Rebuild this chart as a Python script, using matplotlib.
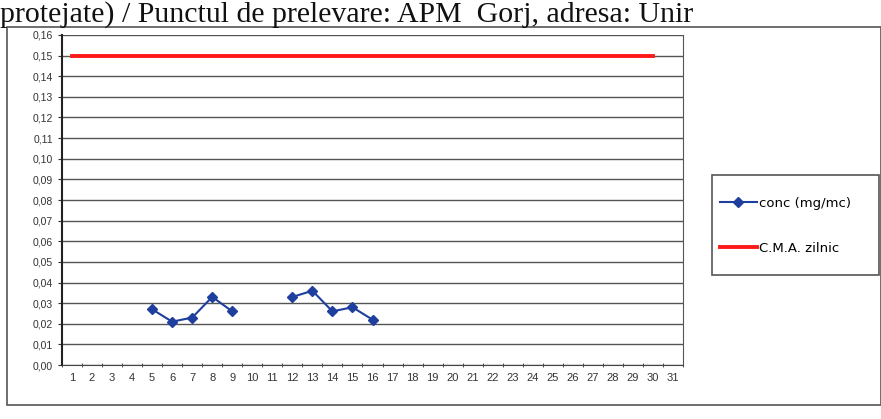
import matplotlib
matplotlib.use("Agg")
import matplotlib.pyplot as plt
from matplotlib.patches import Rectangle

plt.rcParams['font.family'] = ['Liberation Sans', 'DejaVu Sans']

days = list(range(1, 32))
conc_days = [5, 6, 7, 8, 9, 12, 13, 14, 15, 16]
conc = [0.027, 0.021, 0.023, 0.033, 0.026, 0.033, 0.036, 0.026, 0.028, 0.022]
cma_days = list(range(1, 31))
cma = [0.15] * len(cma_days)
yticks = [i / 100 for i in range(17)]
header = "protejate) / Punctul de prelevare: APM  Gorj, adresa: Unir"

fig = plt.figure(figsize=(8.81, 4.19), dpi=100)
ax = fig.add_axes([62 / 881, 1 - 365 / 419, (683 - 62) / 881, (365 - 35) / 419])

# chart frame, legend frame and header from the scanned page
fig.patches.append(Rectangle((7 / 881, 1 - 405 / 419), 874 / 881, 378 / 419,
                             transform=fig.transFigure, fill=False,
                             edgecolor='#555555', linewidth=1.2))
fig.patches.append(Rectangle((712 / 881, 1 - 275 / 419), 167 / 881, 100 / 419,
                             transform=fig.transFigure, fill=False,
                             edgecolor='#555555', linewidth=1.2))
fig.text(0.0, 1 - 1 / 419, header, family='Liberation Serif', fontsize=21.5,
         color='#111111', va='top', ha='left')

ax.plot(cma_days, cma, color='#ff1a1a', linewidth=2.8, label='C.M.A. zilnic', zorder=3)
ax.plot(conc_days[:5], conc[:5], color='#1f3f9f', marker='D', markersize=5,
        linewidth=1.5, label='conc (mg/mc)', zorder=4)
ax.plot(conc_days[5:], conc[5:], color='#1f3f9f', marker='D', markersize=5,
        linewidth=1.5, zorder=4)

ax.set_xlim(0.5, 31.5)
ax.set_ylim(0, 0.16)
ax.set_yticks(yticks)
ax.set_yticklabels([f"{v:.2f}".replace('.', ',') for v in yticks], fontsize=7.5, color='#333333')
ax.set_xticks(days)
ax.set_xticklabels([str(d) for d in days], fontsize=8, color='#333333')
ax.set_xticks([d + 0.5 for d in range(0, 32)], minor=True)
ax.tick_params(axis='x', which='major', length=0, pad=6)
ax.tick_params(axis='x', which='minor', length=3, direction='inout', color='#333333')
ax.tick_params(axis='y', length=3, direction='out', color='#333333')
ax.grid(axis='y', color='#555555', linewidth=1.0)
ax.set_axisbelow(True)
ax.spines['top'].set_visible(False)
ax.spines['left'].set_color('#222222')
ax.spines['left'].set_linewidth(1.5)
ax.spines['bottom'].set_color('#444444')
ax.spines['right'].set_color('#555555')

handles, labels = ax.get_legend_handles_labels()
leg = fig.legend(handles[::-1], labels[::-1], loc='upper left',
                 bbox_to_anchor=(720 / 881, 1 - 197 / 419),
                 prop={'family': 'DejaVu Sans', 'size': 9.5},
                 frameon=False, handlelength=2.8, labelspacing=2.4,
                 borderpad=0, handletextpad=0.15, borderaxespad=0)

fig.savefig('out.png', dpi=100)
